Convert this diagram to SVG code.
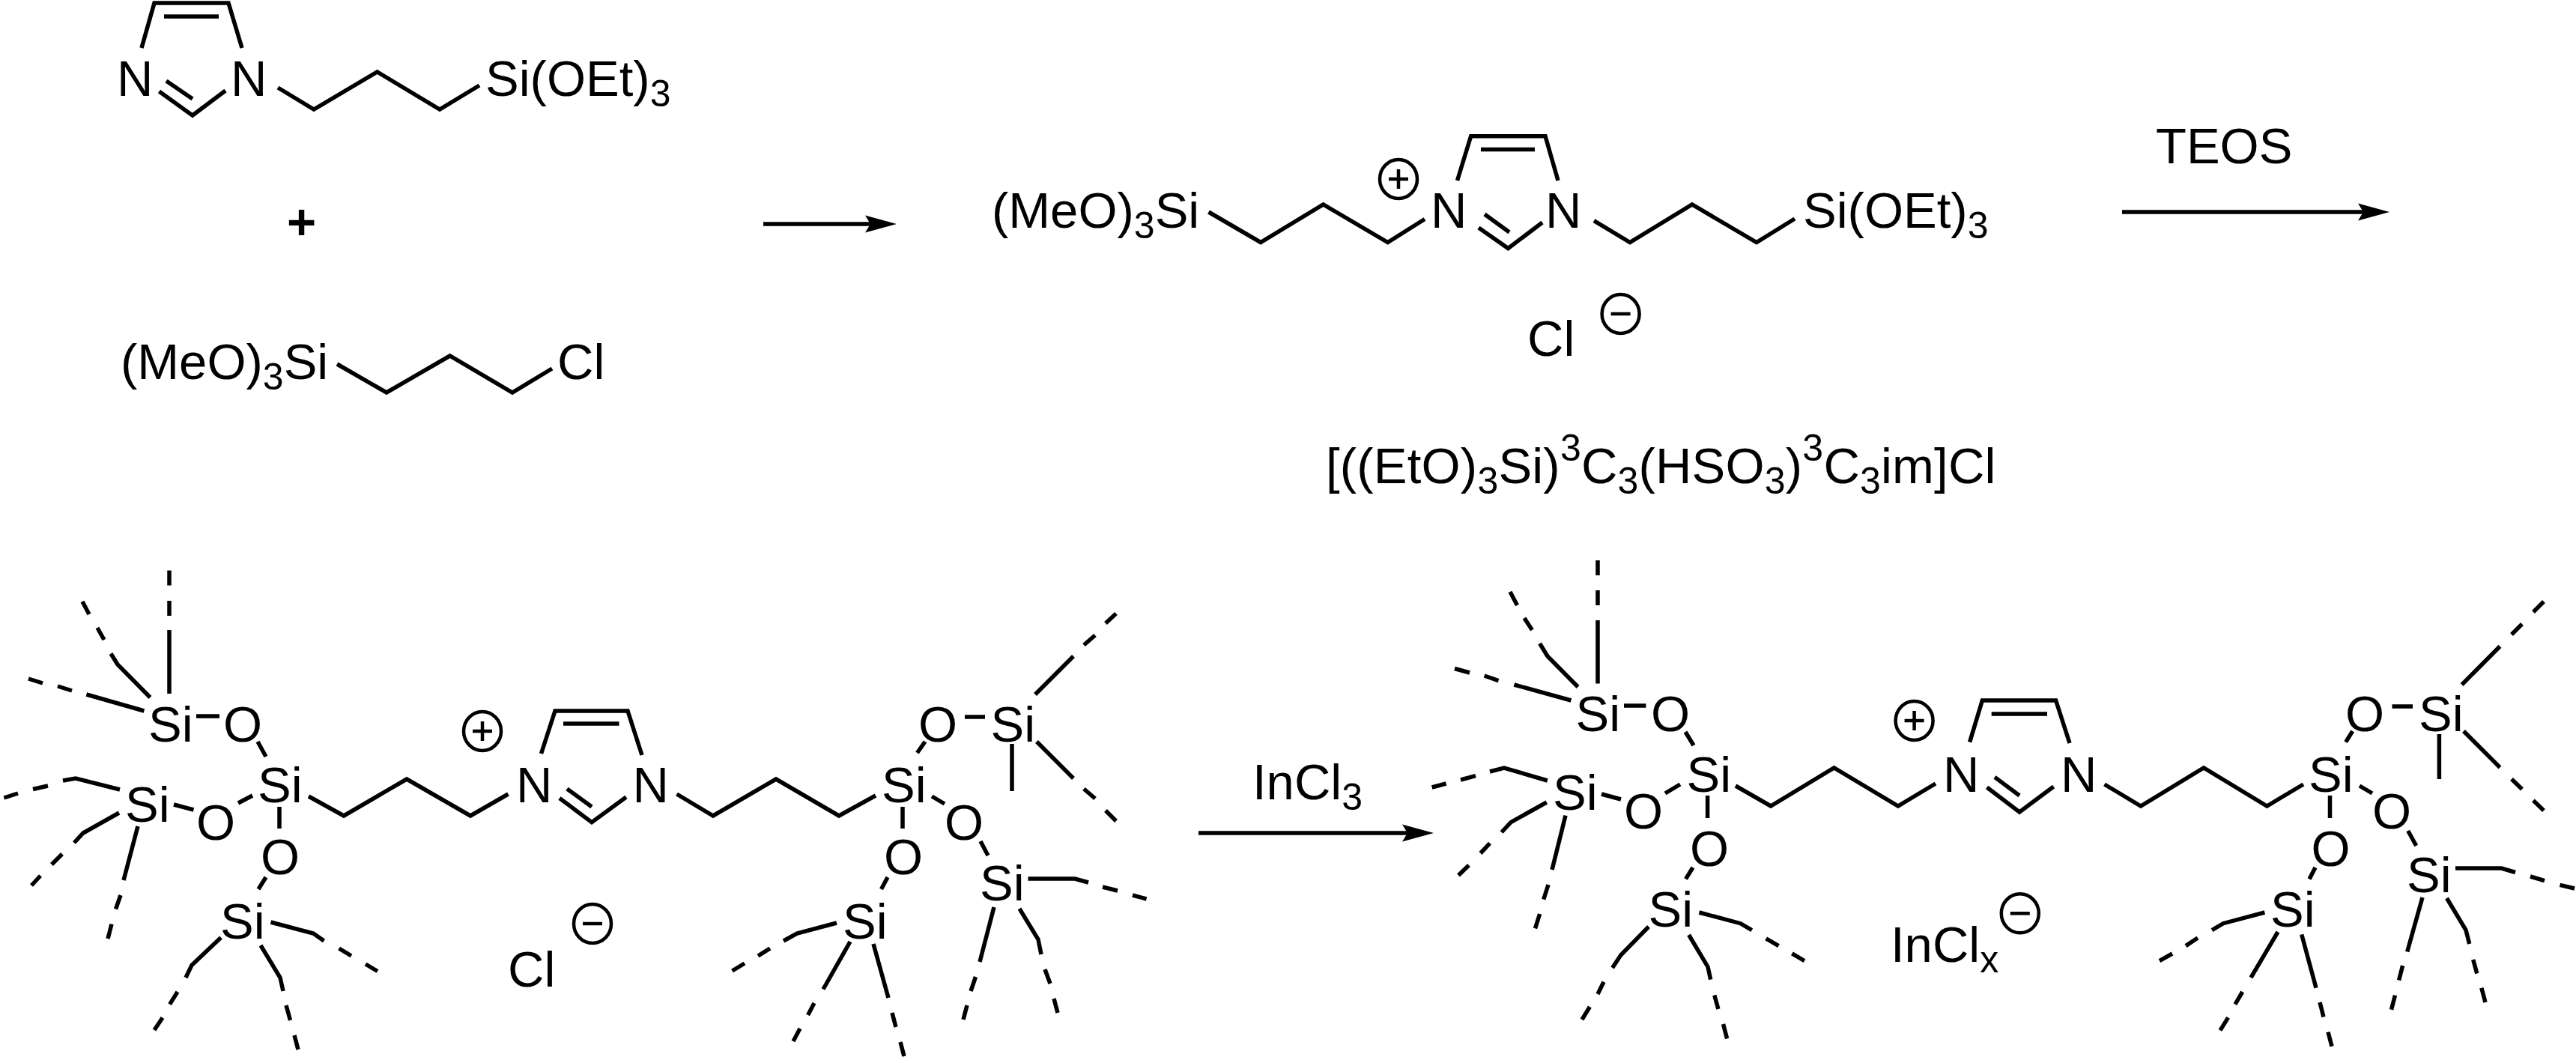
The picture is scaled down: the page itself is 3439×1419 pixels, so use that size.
<svg xmlns="http://www.w3.org/2000/svg" width="3439" height="1419" viewBox="0 0 3439 1419">
<style>
text{font-family:"Liberation Sans",Arial,sans-serif;font-size:67px;fill:#000}
.s{font-size:50px}
.l{letter-spacing:.2px}
.p{font-weight:bold}
.b{fill:none;stroke:#000;stroke-width:5.5;stroke-linejoin:miter;stroke-linecap:butt}
.c{fill:none;stroke:#000;stroke-width:4.5}
.a{fill:none;stroke:#000;stroke-width:5.5}
</style>
<defs>
<marker id="h" markerUnits="userSpaceOnUse" markerWidth="50" markerHeight="30" viewBox="0 -15 50 30" refX="7" refY="0" orient="auto"><path d="M0-11.5L42 0L0 11.5L7 0Z" fill="#000"/></marker>
<g id="plus"><ellipse class="c" rx="25" ry="26"/><path class="c" d="M-13 0H13M0-13V13"/></g>
<g id="minus"><ellipse class="c" rx="25" ry="26"/><path class="c" d="M-13 0H13"/></g>
</defs>
<rect width="3439" height="1419" fill="#fff"/>

<g id="imidazole-silane">
<path class="b" d="M189 64L206 4H305L323 64M219 22H292M212.500 122L257 154L301 121M222 108L257 132M371 117L419 146L503.600 96L587 146L640 114"/>
<text x="156" y="128">N</text><text x="308" y="128">N</text>
<text x="648" y="128">Si(OEt)<tspan class="s" dy="14">3</tspan></text>
</g>

<g id="plus-sign"><text class="p" x="383" y="319">+</text></g>

<g id="chloropropyl-silane">
<path class="b" d="M450 486L516 524L600.600 475L684 524L737 492"/>
<text x="161" y="506">(MeO)<tspan class="s" dy="14">3</tspan><tspan dy="-14">Si</tspan></text>
<text x="744" y="506">Cl</text>
</g>

<g id="bis-silyl-imidazolium">
<path class="b" d="M1945.500 241L1963.700 181.700H2063L2080 241M1977 199.500H2049M1974 304L2013.400 331.500L2059 297M1982 286L2015 310M1613.500 283L1683 323.500L1766.600 273L1852.700 323.500L1902 292.500M2128 294.600L2176 323.500L2259 273L2345 323.500L2396 292"/>
<text x="1324" y="304">(MeO)<tspan class="s" dy="14">3</tspan><tspan dy="-14">Si</tspan></text>
<text x="1910" y="304">N</text><text x="2063" y="304">N</text>
<text x="2407" y="304">Si(OEt)<tspan class="s" dy="14">3</tspan></text>
<use href="#plus" x="1867" y="239"/>
<text x="2039" y="475">Cl</text>
<use href="#minus" x="2163.600" y="419"/>
</g>

<g id="compound-label">
<text class="l" x="1770" y="645">[((EtO)<tspan class="s" dy="14">3</tspan><tspan dy="-14">Si)</tspan><tspan class="s" dy="-30">3</tspan><tspan dy="30">C</tspan><tspan class="s" dy="14">3</tspan><tspan dy="-14">(HSO</tspan><tspan class="s" dy="14">3</tspan><tspan dy="-14">)</tspan><tspan class="s" dy="-30">3</tspan><tspan dy="30">C</tspan><tspan class="s" dy="14">3</tspan><tspan dy="-14">im]Cl</tspan></text>
</g>

<g id="teos-label"><text x="2878" y="218">TEOS</text></g>
<g id="incl3-label"><text x="1672" y="1067">InCl<tspan class="s" dy="14">3</tspan></text></g>

<g id="silica-imidazolium-chloride">
<path class="b" d="M262 956H293M344 990L355 1010M318 1072L337 1062M232 1074L258.500 1081M373 1077V1106M355 1171L345 1187M412 1063L459 1089L543 1040L628 1089L678.500 1060M722.500 1006L741 949H838L857 1008M752 966H826.500M747 1065.500L790 1097.600L836 1064M757 1053L790 1077M903.500 1060L952 1089L1036 1040L1120 1089L1169 1062M1224.500 1005L1235 990M1288 957H1315M1244 1063L1261 1073M1309 1123L1319 1142M1205 1077V1106M1185 1171L1176.500 1187"/>
<path class="b" d="M1382 927L1433 876M1447 861L1462 848M1476 832L1490 819M1351 993V1056M1384 990L1433 1039M1447 1053L1462 1066M1476 1082L1490 1096M1372.500 1173H1435L1453 1178M1472 1184L1492 1189M1512 1195L1530.600 1200M1327 1211L1308 1284M1302.500 1304L1296 1323M1291 1342L1286 1361M1361 1213L1386 1254L1390 1274M1395 1294L1402 1313M1407 1333L1412 1352M1117 1232L1064 1246L1046 1256M1028 1266L1012 1276M994 1286L977.500 1296M1135 1257L1099 1320.500M1087 1339L1078.600 1355M1068 1373L1059 1390M1166 1260L1186 1332M1191 1352L1196 1371M1202 1391L1207 1410"/>
<path class="b" d="M226 926V841M226 822V802M226 781.500V761.500M200.500 931L157 887L148 872.500M139 854L130 838M119 820L110 803M192.400 949L115.400 927M96 922L77 916M57 912L38 906M160 1054L101 1039L84 1042M64 1049L44 1053.500M24 1059L5.400 1065M159 1085L111 1112L99 1125M83 1140L69 1154M54 1169L42 1182M184 1103L165 1175M161 1195L154.500 1213.500M149 1233.600L144 1253M361.500 1231L418.400 1246L432.500 1256M452.600 1266L469 1276M488 1287L504 1296.500M295 1251.400L256 1288.400L248 1305M237 1324L226.600 1340.600M217 1358.400L206 1375M348 1262L374 1305L378 1323M382 1342L387.500 1362M393 1382L398 1401"/>
<text x="198" y="990">Si</text><text x="298" y="990">O</text>
<text x="344" y="1071">Si</text><text x="167" y="1097">Si</text>
<text x="262" y="1121">O</text><text x="348" y="1167">O</text><text x="294" y="1253">Si</text>
<text x="689" y="1071">N</text><text x="844.500" y="1071">N</text>
<text x="1177" y="1071">Si</text><text x="1226" y="990">O</text><text x="1322.500" y="990">Si</text>
<text x="1261" y="1121">O</text><text x="1180" y="1167">O</text>
<text x="1308" y="1202">Si</text><text x="1125" y="1253">Si</text>
<use href="#plus" x="644" y="976"/>
<text x="678" y="1317">Cl</text>
<use href="#minus" x="791" y="1233"/>
</g>

<g id="silica-imidazolium-indate">
<path class="b" d="M2168 942H2197.400M2250 977L2261 995M2223 1059L2243 1047M2138 1060L2164 1067M2279.600 1062V1092M2260 1158L2250.500 1173.400M2317 1049L2364 1076L2448.500 1025L2534 1076L2584 1046M2629.600 990.600L2646.400 935H2744.600L2763 992M2658.700 953H2733M2652.600 1051L2696 1084L2741.600 1050M2663 1037.400L2696 1062M2809.500 1047L2858 1076L2942 1025L3026.400 1076L3075 1047M3131.600 990.600L3140.700 976M3193.500 943H3221M3150 1049L3167 1059M3214.700 1109L3225.700 1129M3110.500 1062V1092M3091 1158L3083 1173.400"/>
<path class="b" d="M3286.600 914L3337.500 862.700M3353 847L3367 833M3382 817L3396 803M3256.400 980V1040M3289 976L3337.500 1024.500M3353 1040L3367 1053.500M3382 1068.600L3396 1082M3278 1159H3339.500L3358 1164.500M3378 1170L3397 1175.600M3417.500 1181.400L3437 1186M3234 1198L3213.700 1270.600M3207.600 1289L3202.600 1308.500M3197.500 1328.600L3192.500 1347.700M3266.500 1199L3292 1241.600L3296.700 1260M3301.700 1281L3306.800 1299.600M3312.800 1318.800L3318 1338M3023.400 1218L2968 1232.700L2953 1241.600M2934 1252L2918 1262.600M2900 1273L2883 1282.600M3041 1244L3005 1305M2993.700 1324L2984 1340.600M2974.600 1358.400L2964 1375.400M3072.700 1247.400L3092 1318.800M3097 1338L3102 1357.500M3108 1377.600L3113 1396.800"/>
<path class="b" d="M2133 912.600V828M2133 808V788M2133 768V748M2106.600 917L2066 876L2055.600 859M2045.400 841L2035 825M2025.500 808L2016 790M2097.400 935L2021.400 914M2000.500 908.600L1981.600 902M1962 898L1942 892.500M2065.800 1042L2008 1025L1989 1030M1970 1035.600L1950 1041M1930.600 1046L1911.700 1051M2064.800 1071L2017 1097.600L2004.600 1111M1989 1125.700L1976.500 1139M1961 1155L1947 1168.500M2090 1088.700L2072 1161M2067 1181L2060.700 1200.600M2055.600 1220L2049.500 1239.400M2268.400 1218L2323.500 1232.700L2338.800 1241.600M2357.700 1252.800L2374.500 1262.600M2392.400 1272.800L2409 1282.600M2201 1237L2163.800 1275L2152.600 1292M2141 1310.700L2133 1327M2122.400 1344L2112 1361M2254.600 1248L2280 1290.700L2283.700 1307.600M2288.800 1328.600L2293.900 1347M2300.500 1367L2305.600 1386.500"/>
<text x="2103.600" y="975.500">Si</text><text x="2204" y="975.500">O</text>
<text x="2251.600" y="1056.600">Si</text><text x="2073" y="1081">Si</text>
<text x="2168" y="1105.600">O</text><text x="2256" y="1156">O</text><text x="2200.600" y="1237">Si</text>
<text x="2594" y="1056.600">N</text><text x="2751" y="1056.600">N</text>
<text x="3082" y="1056.600">Si</text><text x="3131" y="975.500">O</text><text x="3229" y="975.500">Si</text>
<text x="3167" y="1105.600">O</text><text x="3085.500" y="1156">O</text>
<text x="3213" y="1191">Si</text><text x="3031" y="1237">Si</text>
<use href="#plus" x="2555.600" y="962"/>
<text x="2524" y="1284">InCl<tspan class="s" dy="14">x</tspan></text>
<use href="#minus" x="2696.800" y="1219.300"/>
</g>

<g id="connectors">
<line class="a" x1="1019" y1="299" x2="1162" y2="299" marker-end="url(#h)"/>
<line class="a" x1="2833" y1="283" x2="3155" y2="283" marker-end="url(#h)"/>
<line class="a" x1="1600" y1="1112" x2="1879" y2="1112" marker-end="url(#h)"/>
</g>
</svg>
